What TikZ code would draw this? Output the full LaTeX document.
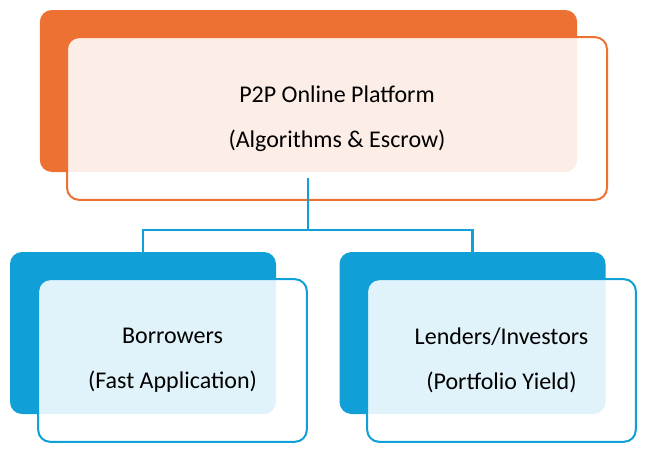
\documentclass[tikz,border=0pt]{standalone}
\usepackage{fontspec}
\setmainfont{Carlito}
\definecolor{orng}{HTML}{ED7132}
\definecolor{blu}{HTML}{109FD6}
\begin{document}
\begin{tikzpicture}[x=0.75pt,y=-0.75pt,
  back/.style={rounded corners=9pt, inner sep=0pt},
  front/.style={rounded corners=9pt, line width=1.5pt, inner sep=0pt, fill=white, fill opacity=0.88, text opacity=1, align=center, font=\fontsize{18}{34}\selectfont},
  link/.style={draw=blu, line width=1.6pt}]
\useasboundingbox (0,0) rectangle (652,457);
% top
\node (topback) [back, fill=orng, minimum width=403pt, minimum height=121.5pt] at (308.5,91) {};
\node (top) [front, draw=orng, minimum width=405pt, minimum height=122pt] at (337,118.5) {P2P Online Platform\\(Algorithms \& Escrow)};
% bottom left
\node (bleftback) [back, fill=blu, minimum width=199.5pt, minimum height=121.5pt] at (143,333) {};
\node (bleft) [front, draw=blu, minimum width=201.5pt, minimum height=122pt] at (172.5,360.5) {Borrowers\\(Fast Application)};
% bottom right
\node (brightback) [back, fill=blu, minimum width=199.5pt, minimum height=121.5pt] at (472.5,333) {};
\node (bright) [front, draw=blu, minimum width=201.5pt, minimum height=122pt] at (501.5,360.5) {Lenders/Investors\\(Portfolio Yield)};
% links
\coordinate (split) at (308,230);
\draw [link] (308,178) -- (split);
\draw [link] (split) -| (bleftback.north);
\draw [link] (split) -| (brightback.north);
\end{tikzpicture}
\end{document}
